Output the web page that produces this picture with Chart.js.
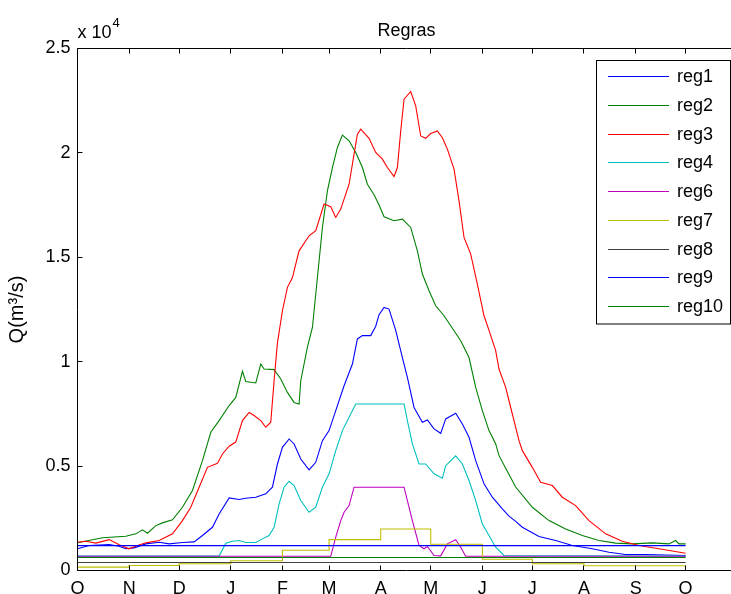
<!DOCTYPE html>
<html>
<head>
<meta charset="utf-8">
<script src="https://cdn.jsdelivr.net/npm/chart.js@4.4.0/dist/chart.umd.min.js"></script>
<style>
  html, body { margin: 0; padding: 0; background: #fff; overflow: hidden; }
  #wrap { width: 731px; height: 594px; overflow: hidden; }
  canvas { display: block; }
</style>
</head>
<body>
<div id="wrap"><canvas id="myChart" width="760" height="594"></canvas></div>
<script>
// month ticks (days from 1 Oct)
var monthDays = [0, 31, 61, 92, 123, 151, 182, 212, 243, 273, 304, 335, 365];
var monthLabels = ['O', 'N', 'D', 'J', 'F', 'M', 'A', 'M', 'J', 'J', 'A', 'S', 'O'];
var yTicks = [0, 5000, 10000, 15000, 20000, 25000];

// series, Q in m3/s
var reg1Day = [0, 7, 19, 25, 29, 34, 41, 49, 55, 63, 70, 75, 81, 85, 91, 97, 101, 107, 113, 117, 120, 123, 127, 130, 134, 139, 143, 147, 151, 155, 160, 165, 168, 171, 176, 179, 181, 184, 187, 191, 195, 198, 202, 207, 210, 214, 218, 221, 227, 231, 235, 239, 244, 249, 255, 259, 263, 267, 277, 287, 297, 309, 319, 329, 341, 365];
var reg1 = [1040, 1200, 1245, 1165, 1040, 1085, 1275, 1355, 1275, 1340, 1370, 1675, 2070, 2710, 3480, 3400, 3460, 3510, 3670, 3990, 5100, 5900, 6300, 6060, 5340, 4820, 5180, 6220, 6700, 7660, 8850, 9890, 11090, 11250, 11250, 11700, 12250, 12600, 12520, 11500, 10200, 9250, 7810, 7100, 7210, 6780, 6570, 7260, 7530, 7020, 6380, 5260, 4150, 3510, 2950, 2600, 2350, 2070, 1625, 1435, 1200, 1040, 875, 765, 765, 720];

var reg2Day = [0, 15, 29, 35, 39, 42, 47, 51, 57, 63, 69, 75, 80, 85, 91, 95, 99, 101, 107, 110, 112, 118, 122, 126, 130, 133, 134, 138, 141, 144, 147, 150, 153, 156, 159, 163, 167, 171, 174, 178, 181, 184, 190, 195, 200, 204, 207, 211, 215, 220, 225, 230, 235, 239, 243, 247, 251, 253, 257, 263, 273, 283, 293, 303, 313, 323, 333, 345, 355, 359, 361, 365];
var reg2 = [1325, 1565, 1640, 1755, 1950, 1785, 2150, 2280, 2425, 3030, 3830, 5260, 6620, 7180, 7900, 8290, 9540, 9050, 8980, 9890, 9650, 9620, 9170, 8530, 8050, 7975, 9090, 10700, 11640, 14030, 16430, 18180, 19300, 20260, 20850, 20580, 20020, 19300, 18500, 18000, 17500, 16940, 16750, 16830, 16430, 15310, 14200, 13400, 12680, 12200, 11600, 11000, 10200, 8770, 7660, 6700, 6060, 5500, 4900, 4000, 3030, 2390, 1990, 1675, 1435, 1310, 1275, 1325, 1275, 1435, 1275, 1275];

var reg3Day = [0, 5, 11, 19, 25, 31, 36, 41, 49, 57, 63, 68, 73, 78, 84, 87, 91, 95, 99, 103, 106, 110, 113, 116, 118, 120, 123, 126, 129, 133, 139, 143, 148, 152, 155, 158, 163, 166, 168, 170, 175, 179, 183, 186, 190, 192, 194, 196, 200, 203, 206, 209, 212, 216, 219, 222, 226, 229, 232, 236, 240, 244, 247, 251, 253, 257, 259, 265, 267, 273, 278, 285, 291, 299, 307, 317, 327, 337, 349, 365];
var reg3 = [1355, 1400, 1310, 1480, 1230, 1040, 1200, 1325, 1435, 1755, 2390, 3030, 3990, 4940, 5130, 5580, 5950, 6150, 7180, 7570, 7420, 7180, 6860, 7100, 9090, 10900, 12440, 13560, 14030, 15310, 16030, 16270, 17550, 17420, 16910, 17310, 18500, 19940, 20900, 21140, 20700, 20020, 19700, 19300, 18870, 19300, 21050, 22570, 22940, 22250, 20810, 20700, 20930, 21050, 20730, 20180, 19220, 17700, 15950, 15150, 13720, 12200, 11500, 10530, 9650, 8770, 8130, 6220, 5740, 4940, 4225, 4070, 3510, 3110, 2390, 1755, 1400, 1200, 1040, 830];

var reg4Day = [0, 85, 89, 93, 97, 101, 107, 111, 115, 118, 121, 124, 127, 130, 134, 139, 143, 147, 151, 155, 159, 163, 167, 196, 198, 201, 205, 209, 214, 219, 221, 227, 231, 235, 239, 243, 247, 251, 256, 365];
var reg4 = [690, 690, 1310, 1400, 1435, 1340, 1340, 1515, 1675, 2070, 3190, 3990, 4275, 4070, 3350, 2790, 3030, 3990, 4630, 5740, 6700, 7340, 7975, 7975, 7180, 6060, 5100, 5100, 4630, 4420, 5020, 5490, 5100, 4310, 3350, 2230, 1675, 1115, 720, 690];

var reg6Day = [0, 152, 155, 158, 160, 163, 166, 196, 198, 201, 205, 208, 210, 214, 218, 222, 227, 230, 233, 365];
var reg6 = [680, 680, 1595, 2390, 2790, 3110, 3990, 3990, 3350, 2390, 1200, 1040, 1150, 720, 700, 1275, 1470, 1115, 685, 685];

var reg7Day = [0, 31, 61, 92, 123, 151, 182, 212, 243, 273, 304, 365];
var reg7 = [160, 240, 320, 470, 970, 1480, 1990, 1260, 540, 320, 225, 225];

var reg8Day = [0, 365];
var reg8 = [380, 380];
var reg9Day = [0, 365];
var reg9 = [1190, 1190];
var reg10Day = [0, 365];
var reg10 = [620, 620];

function pts(days, vals) {
  return days.map(function(d, i) { return { x: d, y: vals[i] }; });
}

var series = [
  { label: 'reg1', data: pts(reg1Day, reg1), color: '#0000ff' },
  { label: 'reg2', data: pts(reg2Day, reg2), color: '#008000' },
  { label: 'reg3', data: pts(reg3Day, reg3), color: '#ff0000' },
  { label: 'reg4', data: pts(reg4Day, reg4), color: '#00bfbf' },
  { label: 'reg6', data: pts(reg6Day, reg6), color: '#bf00bf' },
  { label: 'reg7', data: pts(reg7Day, reg7), color: '#bfbf00', stepped: true },
  { label: 'reg8', data: pts(reg8Day, reg8), color: '#404040' },
  { label: 'reg9', data: pts(reg9Day, reg9), color: '#0000ff' },
  { label: 'reg10', data: pts(reg10Day, reg10), color: '#008000' }
];

var FONT = 'Liberation Sans, Arial, Helvetica, sans-serif';
Chart.defaults.font.family = FONT;
Chart.defaults.color = '#000';

// axes box, inward ticks, title, legend - matlab look
var matlabBits = {
  id: 'matlabBits',
  afterDatasetsDraw: function(chart) {
    var ctx = chart.ctx, a = chart.chartArea;
    var xs = chart.scales.x, ys = chart.scales.y;
    ctx.save();
    ctx.strokeStyle = '#000';
    ctx.lineWidth = 1;
    ctx.beginPath();
    ctx.moveTo(a.left, a.top); ctx.lineTo(a.right, a.top);
    ctx.moveTo(a.left, a.bottom); ctx.lineTo(a.right, a.bottom);
    ctx.moveTo(a.left, a.top); ctx.lineTo(a.left, a.bottom + 0.5);
    monthDays.forEach(function(d) {
      var px = Math.round(xs.getPixelForValue(d) - 0.5) + 0.5;
      ctx.moveTo(px, a.top); ctx.lineTo(px, a.top + 5);
      ctx.moveTo(px, a.bottom); ctx.lineTo(px, a.bottom - 5);
    });
    yTicks.forEach(function(v) {
      var py = Math.round(ys.getPixelForValue(v) - 0.5) + 0.5;
      ctx.moveTo(a.left, py); ctx.lineTo(a.left + 5, py);
    });
    ctx.stroke();
    ctx.restore();
  },
  afterDraw: function(chart) {
    var ctx = chart.ctx, a = chart.chartArea;
    ctx.save();
    ctx.fillStyle = '#000';
    ctx.textBaseline = 'alphabetic';

    // title
    ctx.font = '18px ' + FONT;
    ctx.textAlign = 'center';
    ctx.fillText('Regras', (a.left + a.right) / 2, 36);

    // exponent label
    ctx.textAlign = 'left';
    ctx.fillText('x 10', a.left, 38);
    var w = ctx.measureText('x 10').width;
    ctx.font = '13px ' + FONT;
    ctx.fillText('4', a.left + w + 1, 27);

    // y label
    ctx.font = '20px ' + FONT;
    ctx.save();
    ctx.translate(17, (a.top + a.bottom) / 2);
    ctx.rotate(-Math.PI / 2);
    ctx.textAlign = 'center';
    ctx.textBaseline = 'middle';
    ctx.fillText('Q(m\u00b3/s)', 0, 0);
    ctx.restore();

    // legend box
    var bx = 596.5, by = 60.5, bw = 134, bh = 263.5;
    ctx.fillStyle = '#fff';
    ctx.fillRect(bx, by, bw, bh);
    ctx.strokeStyle = '#000';
    ctx.lineWidth = 1;
    ctx.strokeRect(bx, by, bw, bh);
    ctx.font = '18px ' + FONT;
    ctx.textAlign = 'left';
    ctx.textBaseline = 'middle';
    series.forEach(function(s, i) {
      var y = Math.round(76 + i * 28.75) + 0.5;
      ctx.strokeStyle = s.color;
      ctx.beginPath();
      ctx.moveTo(608, y); ctx.lineTo(669, y);
      ctx.stroke();
      ctx.fillStyle = '#000';
      ctx.fillText(s.label, 677, y + 1);
    });
    ctx.restore();
  }
};

var ctx = document.getElementById('myChart').getContext('2d');
var myChart = new Chart(ctx, {
  type: 'line',
  data: {
    datasets: series.map(function(s, i) {
      return {
        label: s.label,
        data: s.data,
        borderColor: s.color,
        backgroundColor: s.color,
        borderWidth: 1.1,
        pointRadius: 0,
        tension: 0,
        fill: false,
        stepped: s.stepped || false,
        order: series.length - i
      };
    })
  },
  options: {
    responsive: false,
    animation: false,
    devicePixelRatio: 1,
    layout: { padding: { top: 48.5, right: 24.4, bottom: 0, left: 0 } },
    plugins: {
      legend: { display: false },
      title: { display: false },
      tooltip: { enabled: false }
    },
    scales: {
      x: {
        type: 'linear',
        min: 0,
        max: 395,
        grid: { display: false, drawTicks: false },
        border: { display: false },
        afterFit: function(scale) { scale.height = 23.5; },
        afterBuildTicks: function(scale) {
          scale.ticks = monthDays.map(function(d) { return { value: d }; });
        },
        ticks: {
          autoSkip: false,
          maxRotation: 0,
          padding: 8,
          font: { size: 18 },
          callback: function(value, index) { return monthLabels[index]; }
        }
      },
      y: {
        min: 0,
        max: 25000,
        grid: { display: false, drawTicks: false },
        border: { display: false },
        afterFit: function(scale) { scale.width = 77.5; },
        afterBuildTicks: function(scale) {
          scale.ticks = yTicks.map(function(v) { return { value: v }; });
        },
        ticks: {
          padding: 7,
          font: { size: 18 },
          callback: function(value) { return String(value / 10000); }
        }
      }
    }
  },
  plugins: [matlabBits]
});
</script>
</body>
</html>
